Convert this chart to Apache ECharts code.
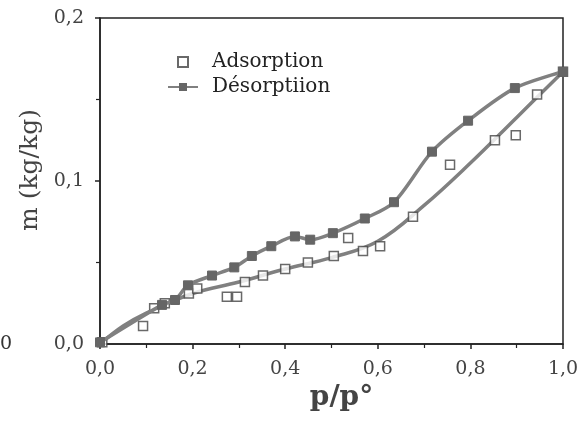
<!DOCTYPE html>
<html>
<head>
<meta charset="utf-8">
<script src="https://cdn.jsdelivr.net/npm/echarts@6/dist/echarts.min.js"></script>
<style>html,body{margin:0;padding:0;background:#fff}#c{width:583px;height:427px}</style>
</head>
<body>
<div id="c"></div>
<script>
// Adsorption measured points [p/p°, m]
const adsorptionPoints = [
  [0.005,0.001],[0.093,0.011],[0.117,0.022],[0.14,0.025],[0.192,0.031],[0.21,0.034],
  [0.274,0.029],[0.296,0.029],[0.313,0.038],[0.352,0.042],[0.40,0.046],[0.449,0.050],
  [0.505,0.054],[0.536,0.065],[0.568,0.057],[0.605,0.060],[0.676,0.078],[0.756,0.110],
  [0.853,0.125],[0.898,0.128],[0.944,0.153],[1.0,0.167]
];
// Adsorption fitted curve
const adsorptionCurve = [
  [0,0],[0.05,0.011],[0.1,0.019],[0.2,0.031],[0.3,0.038],[0.4,0.046],[0.5,0.053],
  [0.6,0.063],[0.7,0.085],[0.8,0.111],[0.9,0.139],[1.0,0.167]
];
// Desorption points [p/p°, m]
const desorptionPoints = [
  [0.0,0.001],[0.134,0.024],[0.162,0.027],[0.19,0.036],[0.242,0.042],[0.29,0.047],
  [0.328,0.054],[0.37,0.060],[0.421,0.066],[0.454,0.064],[0.503,0.068],[0.572,0.077],
  [0.635,0.087],[0.717,0.118],[0.795,0.137],[0.896,0.157],[1.0,0.167]
];
const seriesNames = ['Adsorption','Désorptiion'];
const xTitle = 'p/p°';
const yTitle = 'm (kg/kg)';

const serif = '"DejaVu Serif","Liberation Serif",serif';
const fmt = v => v.toFixed(1).replace('.', ',');

const chart = echarts.init(document.getElementById('c'));
chart.setOption({
  animation: false,
  backgroundColor: '#fff',
  grid: { left: 100, right: 20, top: 18, bottom: 83, show: true, borderColor: '#222', borderWidth: 1.5 },
  legend: {
    orient: 'vertical', left: 162, top: 47, itemGap: 5, itemWidth: 30, itemHeight: 10,
    data: [
      { name: seriesNames[0], icon: 'path://M0,0h10v10h-10z' },
      { name: seriesNames[1] }
    ],
    textStyle: { fontFamily: serif, fontSize: 20, color: '#222', padding: [0, 0, 0, 9] }
  },
  graphic: [{ type: 'text', left: 0, top: 335, style: { text: '0', font: '19px ' + serif, fill: '#333' } }],
  xAxis: {
    type: 'value', min: 0, max: 1, interval: 0.2,
    name: xTitle, nameLocation: 'middle', nameGap: 38,
    nameTextStyle: { fontFamily: serif, fontSize: 28, fontWeight: 'bold', color: '#444', padding: [0, 0, 0, 20] },
    axisLine: { lineStyle: { color: '#222', width: 1.5 } },
    axisTick: { show: true, length: 5, lineStyle: { color: '#222', width: 1.5 } },
    minorTick: { show: true, splitNumber: 2, length: 4, lineStyle: { color: '#222', width: 1.2 } },
    splitLine: { show: false },
    axisLabel: { formatter: fmt, fontFamily: serif, fontSize: 19, color: '#444', margin: 16 }
  },
  yAxis: {
    type: 'value', min: 0, max: 0.2, interval: 0.1,
    name: yTitle, nameLocation: 'middle', nameGap: 57, nameRotate: 90,
    nameTextStyle: { fontFamily: serif, fontSize: 25, color: '#444', padding: [0, 0, 0, 22] },
    axisLine: { lineStyle: { color: '#222', width: 1.5 } },
    axisTick: { show: true, length: 5, lineStyle: { color: '#222', width: 1.5 } },
    minorTick: { show: true, splitNumber: 2, length: 4, lineStyle: { color: '#222', width: 1.2 } },
    splitLine: { show: false },
    axisLabel: { formatter: fmt, fontFamily: serif, fontSize: 19, color: '#444', margin: 16 }
  },
  series: [
    {
      name: 'fit', type: 'line', data: adsorptionCurve, smooth: 0.4, showSymbol: false,
      lineStyle: { color: '#808080', width: 3.5 }, z: 2
    },
    {
      name: seriesNames[0], type: 'scatter', data: adsorptionPoints, symbol: 'rect', symbolSize: 9,
      itemStyle: { color: '#fff', borderColor: '#444', borderWidth: 1.5 }, z: 3
    },
    {
      name: seriesNames[1], type: 'line', data: desorptionPoints, smooth: 0.3,
      symbol: 'rect', symbolSize: 9, showAllSymbol: true,
      lineStyle: { color: '#808080', width: 3.5 },
      itemStyle: { color: '#666', borderColor: '#666' }, z: 4
    }
  ]
});
</script>
</body>
</html>
